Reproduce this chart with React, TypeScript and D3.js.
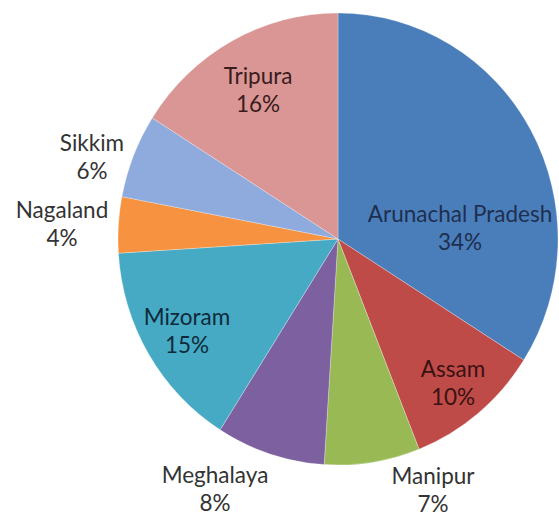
import React from "react";
import * as d3 from "d3";

const states = ["Arunachal Pradesh", "Assam", "Manipur", "Meghalaya", "Mizoram", "Nagaland", "Sikkim", "Tripura"];
const shares = [34, 10, 7, 8, 15, 4, 6, 16];

const colors = ["#4A7EBB", "#BE4B48", "#98B954", "#7D60A0", "#46AAC5", "#F69240", "#8FAADC", "#D99694"];
const labelColors = ["#1F2F4F", "#3A1212", "#333333", "#333333", "#0E2A3A", "#333333", "#333333", "#3A1C1C"];
const labelPos: [number, number][] = [
  [460, 227], [453, 382], [433, 489], [215, 488], [187, 330], [62, 223], [92, 156], [258, 89],
];

const W = 559, H = 518;
const cx = 338, cy = 239, R = 226, RX = 220;

export default function App() {
  const data = states.map((s, i) => ({ name: s, value: shares[i], i }));
  const pie = d3.pie<any>().sort(null).value((d: any) => d.value).startAngle(0).endAngle(2 * Math.PI);
  const arcs = pie(data);
  const arc = d3.arc<any>().innerRadius(0).outerRadius(R);
  const total = d3.sum(shares);
  return (
    <div style={{ position: "absolute", left: 0, top: 0 }}>
      <svg width={W} height={H} style={{ display: "block", background: "#fff" }}>
        <g transform={`translate(${cx},${cy}) scale(${RX / R},1)`}>
          {arcs.map((a, k) => (
            <path key={k} d={arc(a) || ""} fill={colors[k]} stroke="#ffffff" strokeOpacity={0.35} strokeWidth={0.8} />
          ))}
        </g>
        {arcs.map((a, k) => (
          <text key={k} x={labelPos[k][0]} y={labelPos[k][1]} textAnchor="middle" fontFamily="Lato, 'Open Sans', sans-serif" fontSize={22.5} fill={labelColors[k]}>
            <tspan x={labelPos[k][0]} dy="-0.22em">{a.data.name}</tspan>
            <tspan x={labelPos[k][0]} dy="1.24em">{`${Math.round((a.data.value / total) * 100)}%`}</tspan>
          </text>
        ))}
      </svg>
    </div>
  );
}
